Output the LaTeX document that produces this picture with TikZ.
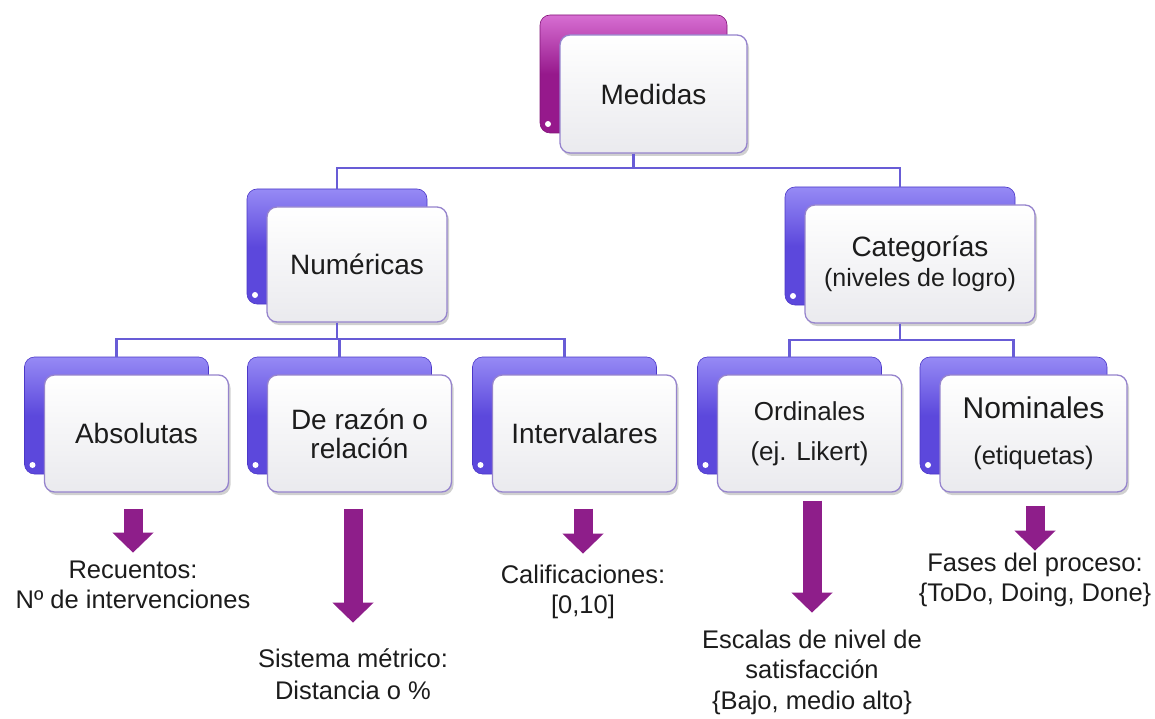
\documentclass[tikz,border=0pt]{standalone}
\usepackage{fontspec}
\setmainfont{Liberation Sans}
\usetikzlibrary{arrows.meta,shadows}
\definecolor{conn}{RGB}{104,92,214}
\definecolor{bblue}{RGB}{92,72,220}
\definecolor{bblueL}{RGB}{150,138,245}
\definecolor{bblueD}{RGB}{76,56,200}
\definecolor{bmag}{RGB}{150,25,140}
\definecolor{bmagL}{RGB}{215,110,210}
\definecolor{bmagD}{RGB}{130,20,120}
\definecolor{fedge}{RGB}{150,132,205}
\definecolor{ffill}{RGB}{234,234,238}
\definecolor{arrowc}{RGB}{142,30,138}
\definecolor{txt}{RGB}{28,28,28}
\tikzset{
  front/.style={draw=fedge, line width=1.3pt, rounded corners=10pt,
    top color=white, bottom color=ffill, text=txt, align=center,
    drop shadow={shadow xshift=2pt, shadow yshift=-3pt, opacity=0.3, fill=black!60},
    minimum width=184, minimum height=117, inner sep=0pt,
    font=\fontsize{28}{32}\selectfont},
  backbox/.style={draw=bblueD, line width=0.6pt, rounded corners=10pt,
    top color=bblueL, bottom color=bblue, middle color=bblue,
    minimum width=184, minimum height=117, inner sep=0pt,
    path picture={\fill[white] ([xshift=8pt,yshift=9pt]path picture bounding box.south west) circle (3pt);}},
  backmag/.style={backbox, draw=bmagD, top color=bmagL, bottom color=bmag, middle color=bmag},
  conline/.style={draw=conn, line width=2.2pt},
  bigarrow/.style={draw=arrowc, line width=19pt, -{Triangle[width=40pt,length=20pt]}},
  leaf/.style={text=txt, align=center, font=\fontsize{25.5}{30}\selectfont, inner sep=0pt}
}
\begin{document}
\begin{tikzpicture}[x=1pt,y=-1pt]
\useasboundingbox[fill=white] (0,0) rectangle (1155,719);

% level 1
\node[backmag, minimum width=187, minimum height=118] (medB) at (633.5,74) {};
\node[front, minimum width=187, minimum height=118] (med) at (653.5,94) {Medidas};

% level 2
\node[backbox, minimum width=180, minimum height=115] (numB) at (337,246.5) {};
\node[front, minimum width=180, minimum height=115] (num) at (357,264.5) {Numéricas};
\node[backbox, minimum width=230, minimum height=118] (catB) at (900,246) {};
\node[front, minimum width=230, minimum height=118] (cat) at (920,264) {Categorías\\[-2pt]{\fontsize{25}{30}\selectfont (niveles de logro)}};

% level 3
\node[backbox] (absB) at (116.5,415.5) {};
\node[front] (abs) at (136.5,433.5) {Absolutas};
\node[backbox] (razB) at (339.5,415.5) {};
\node[front] (raz) at (359.5,433.5) {De razón o\\[-3pt]relación};
\node[backbox] (intB) at (564.5,415.5) {};
\node[front] (int) at (584.5,433.5) {Intervalares};
\node[backbox] (ordB) at (789.5,415.5) {};
\node[front, font=\fontsize{26}{30}\selectfont] (ord) at (809.5,433.5) {Ordinales\\[10pt](ej. Likert)};
\node[backbox, minimum width=187] (nomB) at (1013.5,415.5) {};
\node[front, minimum width=187] (nom) at (1033.5,433.5) {{\fontsize{30}{30}\selectfont Nominales}\\[14pt]{\fontsize{25.5}{30}\selectfont (etiquetas)}};

% connectors
\coordinate (j1) at (633.5,168);
\coordinate (j2) at (337,339);
\coordinate (j3) at (900,340);
\draw[conline] (med.south -| j1) -- (j1);
\draw[conline] (numB.north) |- (j1) -| (catB.north);
\draw[conline] (num.south -| j2) -- (j2);
\draw[conline] (absB.north) |- (j2) -| (intB.north);
\draw[conline] (razB.north) -- (razB.north |- j2);
\draw[conline] (cat.south -| j3) -- (j3);
\draw[conline] (ordB.north) |- (j3) -| (nomB.north);

% leaves
\node[leaf] (rec) at (133,585) {Recuentos:\\Nº de intervenciones};
\node[leaf, font=\fontsize{25.5}{32}\selectfont] (sis) at (353,674) {Sistema métrico:\\Distancia o \%};
\node[leaf] (cal) at (583,592) {Calificaciones:\\{[}0,10{]}};
\node[leaf, font=\fontsize{25.5}{30.5}\selectfont] (esc) at (812,672) {Escalas de nivel de\\satisfacción\\\{Bajo, medio alto\}};
\node[leaf] (fas) at (1035,580) {Fases del proceso:\\\{ToDo, Doing, Done\}};

% arrows
\draw[bigarrow] ([yshift=-16pt]abs.south -| rec.north) -- ([yshift=-60pt]abs.south -| rec.north);
\draw[bigarrow] ([yshift=-16pt]raz.south -| sis.north) -- ([yshift=-130pt]raz.south -| sis.north);
\draw[bigarrow] ([yshift=-16pt]int.south -| cal.north) -- ([yshift=-61pt]int.south -| cal.north);
\draw[bigarrow] ([yshift=-8pt]ord.south -| esc.north) -- ([yshift=-120pt]ord.south -| esc.north);
\draw[bigarrow] ([yshift=-13pt]nom.south -| fas.north) -- ([yshift=-58pt]nom.south -| fas.north);
\end{tikzpicture}
\end{document}
